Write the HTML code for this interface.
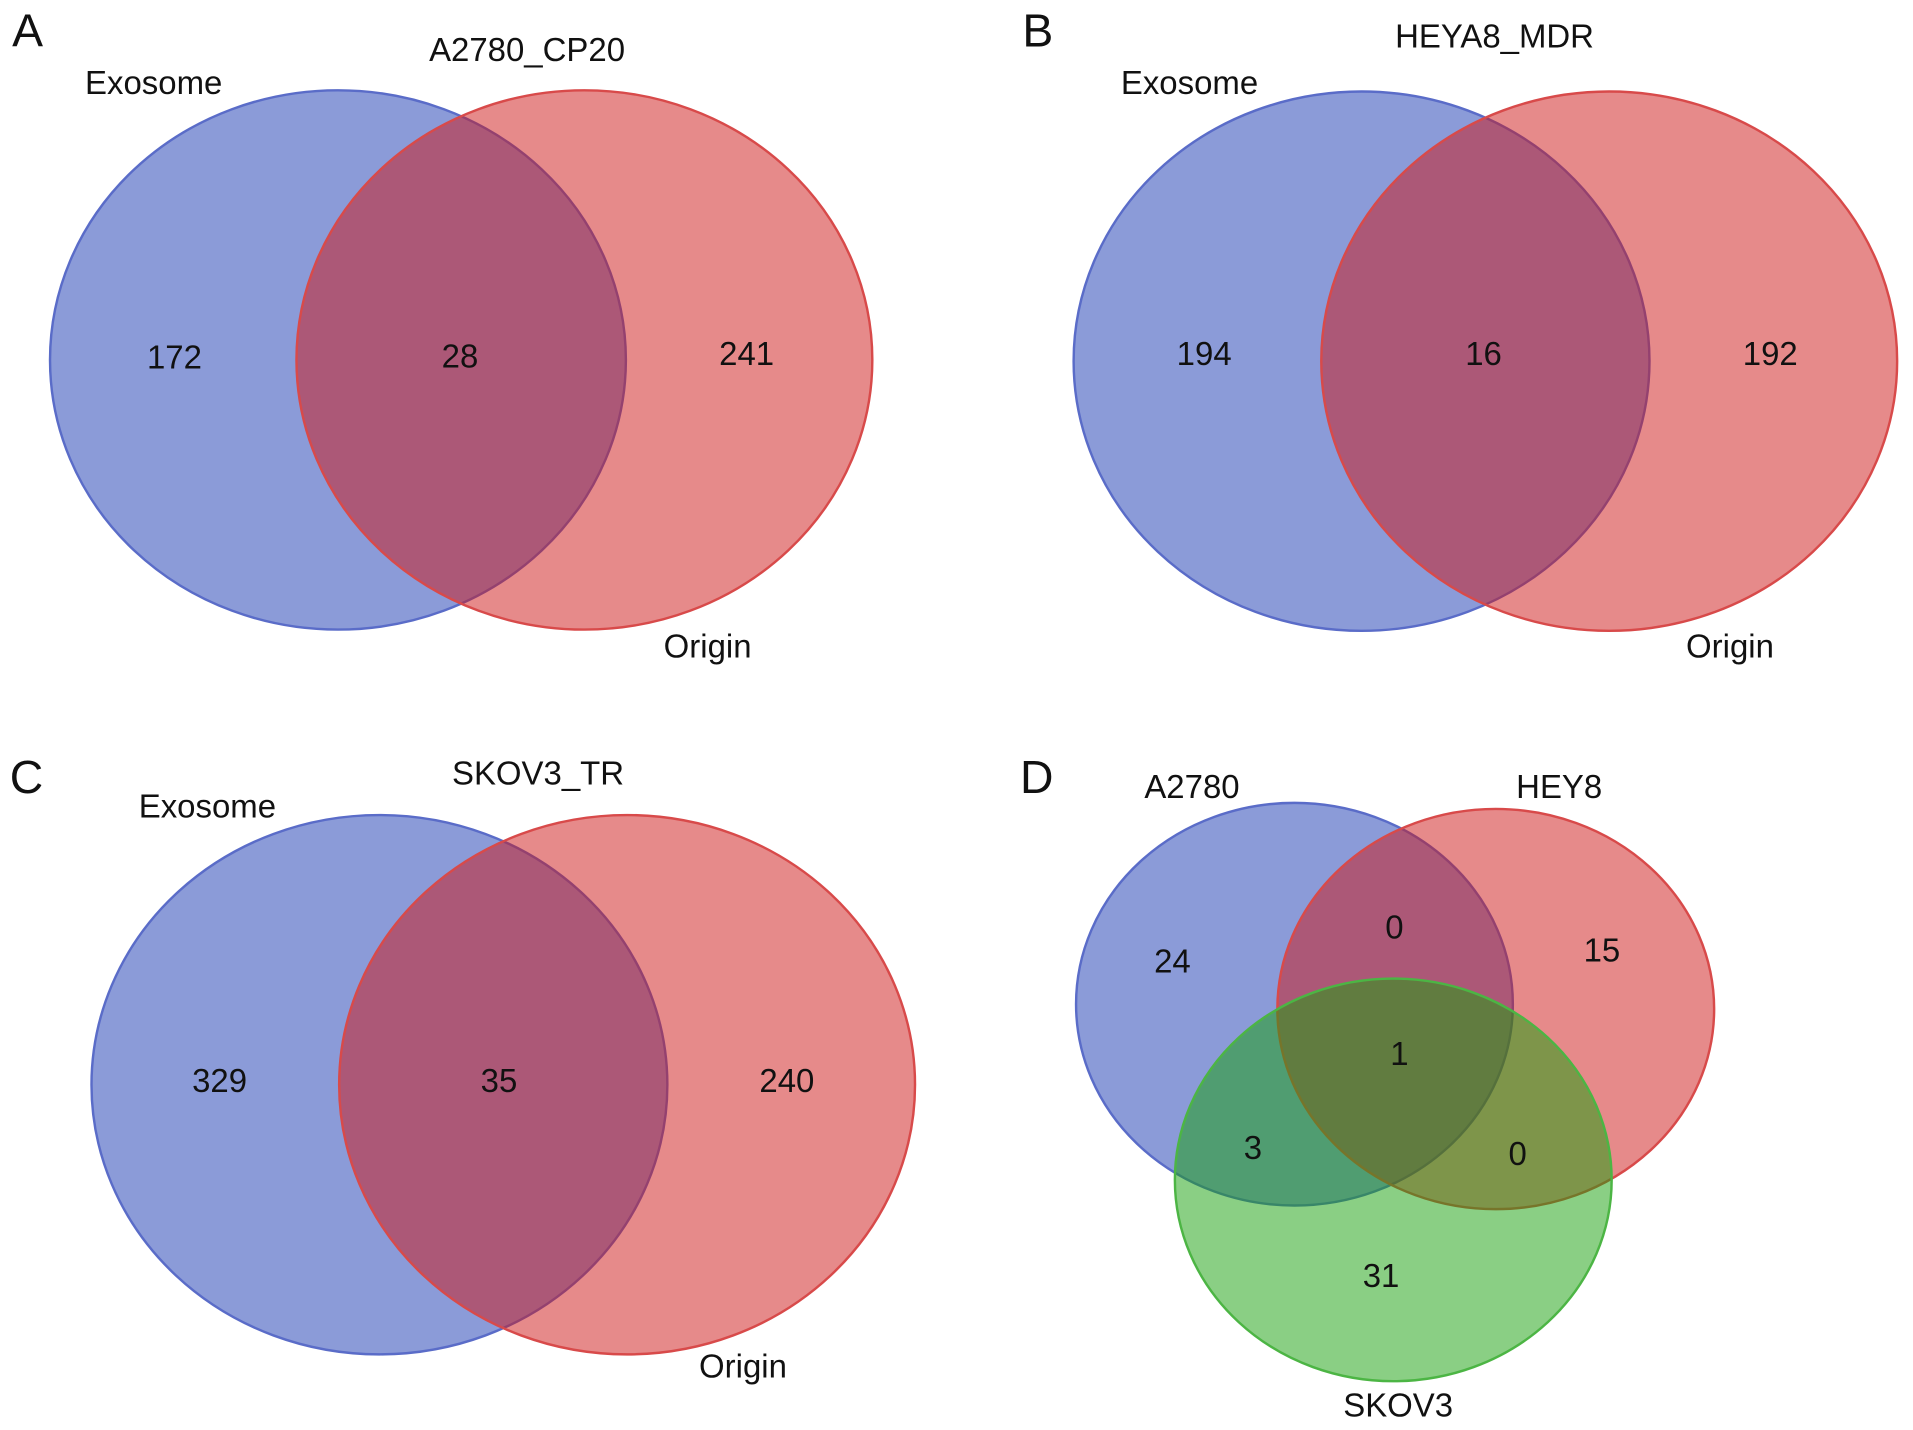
<!DOCTYPE html>
<html><head><meta charset="utf-8"><style>
html,body{margin:0;padding:0;background:#fff;}
svg{display:block;font-family:"Liberation Sans",Arial,sans-serif;}
</style></head><body>
<svg id="chart" width="1913" height="1430" viewBox="0 0 1568 1172" preserveAspectRatio="none" xmlns="http://www.w3.org/2000/svg"></svg>
<script>
const panelLetters = ["A","B","C","D"];
const panelTitles = ["A2780_CP20","HEYA8_MDR","SKOV3_TR"];
const exoOnly = [172,194,329];
const shared = [28,16,35];
const originOnly = [241,192,240];
const tripleSets = ["A2780","HEY8","SKOV3"];
const tripleCounts = [24,15,31,0,3,0,1]; // A, H, S, AH, AS, HS, AHS

const NS="http://www.w3.org/2000/svg";
const svg=document.getElementById('chart');
function mk(tag,attrs,parent){const e=document.createElementNS(NS,tag);for(const k in attrs)e.setAttribute(k,attrs[k]);(parent||svg).appendChild(e);return e;}
function txt(x,y,s,size,anchor,parent){const t=mk('text',{x:x,y:y,'font-size':size,'text-anchor':anchor||'middle',fill:'#111'},parent);t.textContent=s;return t;}
const BLUE='rgba(23,55,177,0.5)',RED='rgba(205,21,21,0.5)',GREEN='rgba(21,159,9,0.5)';
const BS='#5a6cc8',RS='#d84a4a',GS='#4cb544';
const FS=27;

const layouts=[
 {bx:277,rx2:479,cy:295,title:[432,50],exo:[126,77],org:[580,539],n:[[143,302],[377,301],[612,299]]},
 {bx:1116,rx2:1319,cy:296,title:[1225,39],exo:[975,77],org:[1418,539],n:[[987,299],[1216,299],[1451,299]]},
 {bx:311,rx2:514,cy:889,title:[441,643],exo:[170,670],org:[609,1129],n:[[180,895],[409,895],[645,895]]}
];
const letterPos=[[10,38],[838,38],[8,650],[836,650]];
panelLetters.forEach((L,i)=>{const t=txt(letterPos[i][0],letterPos[i][1],L,38,'start');

});

layouts.forEach((p,i)=>{
 const g=mk('g',{});
 
 
 const b=mk('ellipse',{cx:p.bx,cy:p.cy,rx:236,ry:221,fill:BLUE,stroke:BS,'stroke-width':2},g);
 
 
 const r=mk('ellipse',{cx:p.rx2,cy:p.cy,rx:236,ry:221,fill:RED,stroke:RS,'stroke-width':2},g);
 
 
 const t1=txt(p.title[0],p.title[1],panelTitles[i],FS,'middle',g);
 
 
 const t2=txt(p.exo[0],p.exo[1],'Exosome',FS,'middle',g);
 
 
 const t3=txt(p.org[0],p.org[1],'Origin',FS,'middle',g);
 
 
 const n1=txt(p.n[0][0],p.n[0][1],exoOnly[i],FS,'middle',g);
 
 
 const n2=txt(p.n[1][0],p.n[1][1],shared[i],FS,'middle',g);
 
 
 const n3=txt(p.n[2][0],p.n[2][1],originOnly[i],FS,'middle',g);
 
 
});
// Panel D
const gd=mk('g',{});


const circ=[[1061,823,179,165,BLUE,BS],[1226,827,179,164,RED,RS],[1142,967,179,165,GREEN,GS]];
circ.forEach((c,i)=>{const e=mk('ellipse',{cx:c[0],cy:c[1],rx:c[2],ry:c[3],fill:c[4],stroke:c[5],'stroke-width':2},gd);

});
const setLabelPos=[[977,654],[1278,654],[1146,1161]];
tripleSets.forEach((s,i)=>{const t=txt(setLabelPos[i][0],setLabelPos[i][1],s,FS,'middle',gd);

});
const cntPos=[[961,797],[1313,788],[1132,1055],[1143,769],[1027,950],[1244,955],[1147,873]];
const cntNames=['a2780-only','hey8-only','skov3-only','a2780-hey8','a2780-skov3','hey8-skov3','all-three'];
tripleCounts.forEach((v,i)=>{const t=txt(cntPos[i][0],cntPos[i][1],v,FS,'middle',gd);

});
</script>
</body></html>
